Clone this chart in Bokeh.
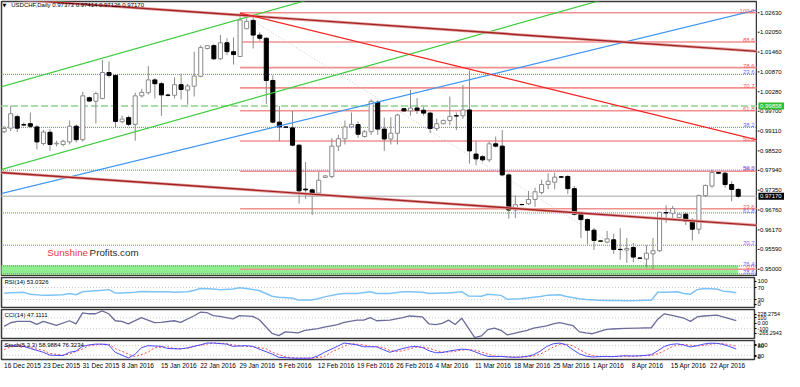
from bokeh.plotting import figure
from bokeh.layouts import column, row
from bokeh.models import Range1d, FixedTicker, Label
from bokeh.embed import file_html
from bokeh.resources import INLINE
from bokeh.core.properties import value

# ---------------- data ----------------
opens = [0.99091, 0.99196, 0.99539, 0.99302, 0.99330, 0.99233, 0.98740, 0.99074, 0.98731, 0.98711,
         0.98788, 0.99253, 0.98854, 1.00101, 0.99996, 1.00081, 1.00852, 1.00766, 0.99388, 0.99510,
         0.99310, 1.00158, 1.00253, 1.00632, 1.00518, 1.00181, 1.00175, 1.00489, 1.00330, 1.00444,
         1.00738, 1.01566, 1.01651, 1.01260, 1.01737, 1.01471, 1.01329, 1.02157, 1.02402, 1.01965,
         1.01871, 1.00615, 0.99376, 0.99231, 0.99205, 0.98691, 0.97384, 0.97361, 0.97264, 0.97732,
         0.97760, 0.98662, 0.98882, 0.99233, 0.99302, 0.98948, 0.99091, 0.99967, 0.99168, 0.98874,
         0.99045, 0.99776, 0.99710, 0.99796, 0.99730, 0.99644, 0.99188, 0.99330, 0.99425, 0.99567,
         0.99567, 0.99739, 0.98426, 0.98348, 0.98254, 0.98731, 0.98662, 0.97806, 0.96761, 0.96927,
         0.96950, 0.97075, 0.97284, 0.97521, 0.97589, 0.97749, 0.97760, 0.97398, 0.96636, 0.96476,
         0.96162, 0.95842, 0.95808, 0.95876, 0.95591, 0.95571, 0.95648, 0.95334, 0.95305, 0.95457,
         0.95551, 0.96684, 0.96664, 0.96541, 0.96636, 0.96447, 0.96190, 0.97189, 0.97475, 0.97875,
         0.97855, 0.97521, 0.97373]
highs = [0.99253, 0.99853, 0.99596, 0.99368, 0.99662, 0.99282, 0.99139, 0.99168, 0.98825, 0.98854,
         0.99425, 0.99310, 1.00281, 1.00138, 1.00281, 1.01232, 1.01186, 1.00795, 0.99567, 0.99567,
         1.00253, 1.00367, 1.01043, 1.00681, 1.00567, 1.00224, 1.00709, 1.00823, 1.00509, 1.01471,
         1.01660, 1.01666, 1.01708, 1.01965, 1.01871, 1.01894, 1.02625, 1.02465, 1.02579, 1.02051,
         1.01894, 1.00766, 0.99853, 0.99253, 0.99710, 0.98711, 0.98189, 0.97398, 0.97903, 0.97797,
         0.98902, 0.98996, 0.99425, 0.99662, 0.99396, 0.99139, 1.00053, 1.00024, 0.99510, 0.99519,
         0.99625, 0.99796, 1.00338, 1.00090, 0.99833, 0.99682, 0.99482, 0.99453, 1.00138, 0.99662,
         1.00481, 1.00909, 0.98805, 0.98397, 0.98805, 0.98948, 0.99139, 0.97855, 0.97189, 0.96941,
         0.97332, 0.97426, 0.97663, 0.97855, 0.97875, 0.97769, 0.97797, 0.97475, 0.96713, 0.96513,
         0.96236, 0.95856, 0.96142, 0.96056, 0.96219, 0.95933, 0.95779, 0.95357, 0.95714, 0.95933,
         0.96712, 0.96904, 0.96884, 0.96656, 0.96684, 0.96521, 0.97227, 0.97521, 0.97969, 0.97903,
         0.97903, 0.97618, 0.97414]
lows = [0.99054, 0.99111, 0.99082, 0.99253, 0.99196, 0.98568, 0.98682, 0.98525, 0.98654, 0.98654,
        0.98711, 0.98768, 0.98797, 0.99967, 0.99339, 1.00053, 1.00709, 0.99205, 0.99339, 0.99253,
        0.98825, 1.00110, 1.00195, 1.00081, 0.99567, 1.00138, 1.00081, 1.00053, 0.99896, 1.00138,
        1.00709, 1.01537, 1.01223, 1.01223, 1.01366, 1.01089, 1.01309, 1.02137, 1.01566, 1.01794,
        0.99910, 0.99339, 0.98805, 0.99196, 0.98654, 0.96950, 0.97092, 0.96619, 0.97227, 0.97712,
        0.97712, 0.98520, 0.98711, 0.99196, 0.98911, 0.98911, 0.98996, 0.98996, 0.98520, 0.98711,
        0.98711, 0.99682, 0.99567, 0.99616, 0.99567, 0.99045, 0.99111, 0.99310, 0.99282, 0.99139,
        0.99473, 0.98140, 0.98092, 0.98197, 0.98189, 0.98625, 0.97769, 0.96504, 0.96521, 0.96904,
        0.96913, 0.96855, 0.97227, 0.97378, 0.97378, 0.97712, 0.97235, 0.96599, 0.95933, 0.95742,
        0.95571, 0.95813, 0.95771, 0.95457, 0.95285, 0.95191, 0.95208, 0.95314, 0.95048, 0.95000,
        0.95514, 0.96379, 0.96476, 0.96513, 0.96313, 0.95856, 0.96048, 0.97141, 0.97426, 0.97826,
        0.97426, 0.97018, 0.97126]
closes = [0.99188, 0.99625, 0.99196, 0.99291, 0.99253, 0.98788, 0.99082, 0.98711, 0.98748, 0.98805,
          0.99253, 0.98854, 1.00158, 1.00004, 1.00224, 1.00852, 1.00766, 0.99396, 0.99467, 0.99310,
          1.00158, 1.00261, 1.00632, 1.00518, 1.00187, 1.00173, 1.00489, 1.00347, 1.00452, 1.00746,
          1.01594, 1.01651, 1.01260, 1.01737, 1.01471, 1.01386, 1.02414, 1.02374, 1.01965, 1.01871,
          1.00615, 0.99376, 0.99233, 0.99225, 0.98691, 0.97332, 0.97361, 0.97264, 0.97646, 0.97778,
          0.98662, 0.98882, 0.99233, 0.99310, 0.99016, 0.99091, 0.99996, 0.99168, 0.98874, 0.99045,
          0.99587, 0.99710, 0.99796, 0.99730, 0.99644, 0.99188, 0.99330, 0.99425, 0.99547, 0.99559,
          0.99739, 0.98520, 0.98283, 0.98254, 0.98731, 0.98662, 0.97806, 0.96761, 0.96921, 0.96921,
          0.97075, 0.97304, 0.97521, 0.97618, 0.97740, 0.97740, 0.97398, 0.96636, 0.96476, 0.96162,
          0.95856, 0.95836, 0.95905, 0.95591, 0.95585, 0.95619, 0.95362, 0.95328, 0.95477, 0.95551,
          0.96693, 0.96676, 0.96807, 0.96636, 0.96427, 0.96190, 0.97189, 0.97492, 0.97875, 0.97855,
          0.97521, 0.97373, 0.97170]

date_ticks = [0, 6, 12, 18, 24, 30, 36, 42, 48, 54, 60, 66, 72, 78, 84, 90, 96, 102, 108]
date_labels = ["16 Dec 2015", "23 Dec 2015", "31 Dec 2015", "8 Jan 2016", "15 Jan 2016",
               "22 Jan 2016", "29 Jan 2016", "5 Feb 2016", "12 Feb 2016", "19 Feb 2016",
               "26 Feb 2016", "4 Mar 2016", "11 Mar 2016", "18 Mar 2016", "25 Mar 2016",
               "1 Apr 2016", "8 Apr 2016", "15 Apr 2016", "22 Apr 2016"]
price_ticks = [1.02630, 1.02050, 1.01460, 1.00870, 1.00280, 0.99700, 0.99110, 0.98520,
               0.97940, 0.97350, 0.96760, 0.96170, 0.95590, 0.95000]

# trend lines (bar index, price)
green_up_i, green_up_p = [-1, 50], [1.00396, 1.03212]
green_lo_i, green_lo_p = [-1, 95], [0.97935, 1.03218]
blue_i, blue_p = [-1, 115], [0.97223, 1.02724]
brown_up_i, brown_up_p = [-1, 115], [1.03062, 1.01479]
brown_lo_i, brown_lo_p = [-1, 115], [0.97886, 0.96304]
red_i, red_p = [36, 115], [1.02620, 0.98845]
diag_i, diag_p = [36, 99], [1.02630, 0.95000]

# fibonacci tools
red_fib_levels = [0.0, 23.6, 38.2, 50.0, 61.8, 70.7, 78.6, 88.6, 100.0]
red_fib_low, red_fib_high, red_fib_start = 0.95000, 1.02630, 36
blue_fib_levels = [23.6, 38.2, 50.0, 61.8, 70.7, 76.4, 78.6]
blue_fib_top, blue_fib_bottom = 1.03342, 0.92554

support_level = 0.99858
last_close = 0.97170
zone_top, zone_bottom = 0.95120, 0.94840

# indicators
rsi_i = [0, 1, 3, 4, 6, 7, 9, 10, 11, 12, 13, 15, 16, 17, 18, 20, 21, 23, 25, 26,
         28, 29, 30, 32, 33, 35, 36, 37, 39, 41, 42, 44, 45, 47, 48, 49, 51, 52, 54, 56,
         57, 59, 61, 62, 64, 65, 67, 68, 70, 71, 73, 74, 76, 77, 79, 80, 82, 83, 85, 86,
         88, 89, 91, 92, 94, 95, 97, 98, 99, 100, 101, 103, 104, 105, 106, 107, 109, 110, 111, 112]
rsi_v = [51, 53, 54, 48, 44, 44, 46, 50, 46, 56, 58, 61, 63, 52, 52, 54, 57, 56, 56, 54,
         56, 60, 67, 65, 63, 65, 69, 67, 60, 41, 38, 35, 29, 29, 33, 39, 48, 50, 50, 56,
         50, 50, 56, 56, 54, 50, 52, 52, 56, 42, 41, 48, 44, 31, 33, 35, 40, 44, 46, 40,
         33, 30, 28, 27, 27, 26, 27, 28, 28, 54, 54, 56, 50, 48, 63, 67, 65, 58, 56, 53.03]

cci_i = [0, 1, 2, 4, 5, 6, 8, 10, 11, 12, 13, 14, 15, 16, 17, 18, 19, 21, 23, 24,
         26, 27, 29, 30, 31, 32, 33, 35, 36, 38, 39, 41, 42, 43, 45, 46, 48, 49, 51, 52,
         54, 55, 56, 57, 59, 61, 62, 64, 65, 66, 67, 68, 69, 70, 72, 73, 74, 75, 76, 77,
         78, 80, 81, 83, 84, 85, 87, 88, 89, 90, 92, 93, 95, 97, 99, 100, 101, 102, 104, 105,
         106, 107, 109, 110, 112]
cci_v = [-58, 10, 35, 35, -20, 35, -40, 47, -12, 193, 176, 176, 228, 176, 47, 35, -12, 105, 12, 17,
         47, 17, 135, 205, 199, 141, 129, 82, 141, 129, 70, -188, -228, -158, -176, -129, -100, -70, -23, 18,
         59, 59, 105, 47, 59, 105, 135, 117, -12, -23, 0, 59, -23, 94, -265, -234, -117, -88, -129, -216,
         -188, -129, -88, -47, -12, 12, -41, -158, -176, -193, -117, -105, -94, -88, -82, 76, 176, 152, 94, 35,
         117, 135, 152, 117, 47.11]

stk_i = [0, 1, 3, 4, 6, 7, 9, 10, 11, 12, 13, 14, 15, 16, 17, 19, 20, 21, 22, 24,
         25, 27, 28, 30, 31, 32, 34, 35, 37, 38, 39, 41, 42, 44, 45, 47, 48, 49, 51, 52,
         54, 55, 57, 58, 59, 60, 61, 62, 63, 64, 65, 66, 67, 68, 69, 70, 71, 72, 73, 74,
         75, 76, 77, 78, 79, 80, 81, 82, 83, 84, 85, 86, 87, 88, 89, 90, 91, 92, 93, 94,
         95, 96, 97, 98, 99, 100, 101, 102, 103, 104, 105, 106, 107, 108, 109, 110, 111, 112]
stk_v = [76, 80, 76, 62, 38, 20, 17, 38, 45, 76, 85, 90, 90, 85, 38, 2, 24, 67, 80, 76,
         62, 59, 66, 85, 97, 97, 90, 76, 80, 76, 59, 27, 6, 1, 0, 1, 15, 38, 76, 97,
         85, 73, 73, 55, 38, 50, 62, 72, 76, 68, 48, 35, 36, 45, 52, 58, 55, 42, 25, 12,
         10, 12, 8, 6, 8, 12, 22, 45, 75, 92, 97, 85, 55, 28, 14, 8, 10, 12, 10, 13,
         16, 14, 15, 18, 22, 48, 75, 88, 92, 84, 72, 80, 90, 96, 95, 88, 74, 58.99]

sig_i = [0, 1, 3, 4, 6, 7, 9, 10, 12, 13, 15, 16, 17, 19, 20, 22, 23, 25, 26, 28,
         29, 31, 32, 34, 35, 37, 38, 40, 41, 43, 44, 46, 47, 49, 50, 52, 53, 55, 56, 58,
         59, 60, 61, 62, 63, 64, 65, 66, 67, 68, 69, 70, 71, 72, 73, 74, 75, 76, 77, 78,
         79, 80, 81, 82, 83, 84, 85, 86, 87, 88, 89, 90, 91, 92, 93, 94, 95, 96, 97, 98,
         99, 100, 101, 102, 103, 104, 105, 106, 107, 108, 109, 110, 111, 112]
sig_v = [55, 73, 80, 67, 50, 31, 20, 27, 59, 80, 89, 90, 62, 27, 10, 38, 67, 73, 62, 62,
         76, 90, 97, 94, 85, 76, 73, 62, 38, 10, 3, 0, 0, 10, 38, 76, 94, 85, 76, 69,
         50, 42, 48, 60, 70, 72, 64, 50, 40, 39, 44, 52, 55, 52, 41, 26, 16, 11, 10, 9,
         7, 9, 14, 26, 47, 71, 88, 91, 79, 56, 32, 17, 11, 10, 11, 12, 13, 14, 15, 16,
         18, 29, 48, 70, 85, 88, 83, 79, 81, 89, 94, 93, 86, 76.32]

header_text = "USDCHF,Daily  0.97373 0.97414 0.97126 0.97170"
rsi_text = "RSI(14) 53.0326"
cci_text = "CCI(14) 47.1111"
stoch_text = "Stoch(5,3,3) 58.9884 76.3234"

# ---------------- layout ----------------
FONT = "Liberation Sans"
W, RB = 784, 28
X0, X1 = -0.40, 114.79
xr = Range1d(X0, X1)
XL, XR = -2, 117
FRAME_W = 755
PX_PER_BAR = FRAME_W / (X1 - X0)


def style_axis(ax, size="6px"):
    ax.axis_line_color = None
    ax.major_tick_out = 2
    ax.major_tick_in = 0
    ax.minor_tick_line_color = None
    ax.major_tick_line_color = "#000000"
    ax.major_label_standoff = 1
    ax.major_label_text_font = FONT
    ax.major_label_text_font_size = size
    ax.major_label_text_color = "#000000"


def make(h, y0, y1, top, bottom, xaxis=False, yaxis=True, width=W, rb=RB):
    p = figure(width=width, height=h, x_range=xr, y_range=Range1d(y0, y1),
               output_backend="svg", toolbar_location=None,
               x_axis_location="below" if xaxis else None,
               y_axis_location="right" if yaxis else None,
               min_border_left=1, min_border_right=rb,
               min_border_top=top, min_border_bottom=bottom)
    p.grid.visible = False
    p.outline_line_color = "#3a3a3a"
    p.outline_line_width = 1.5
    p.background_fill_color = "white"
    p.border_fill_color = "white"
    if yaxis:
        style_axis(p.yaxis[0])
    return p


# ---- main price panel (its price scale is drawn in a strip beside it) ----
main = make(276, 0.94814, 1.02964, 1, 1, yaxis=False, width=W - RB + 1, rb=1)

main.quad(left=[XL], right=[len(opens) - 1], top=[zone_top], bottom=[zone_bottom],
          fill_color="#90ee90", line_color=None)

bf_prices = [blue_fib_top - l / 100.0 * (blue_fib_top - blue_fib_bottom) for l in blue_fib_levels]
main.segment(x0=[XL] * len(bf_prices), x1=[XR] * len(bf_prices), y0=bf_prices, y1=bf_prices,
             line_color="#6b6bff", line_width=1, line_dash="1 1")
rf_prices = [red_fib_low + l / 100.0 * (red_fib_high - red_fib_low) for l in red_fib_levels]
main.segment(x0=[red_fib_start] * len(rf_prices), x1=[XR] * len(rf_prices), y0=rf_prices, y1=rf_prices,
             line_color="#f29090", line_width=1.6)

main.segment(x0=[XL], x1=[XR], y0=[support_level], y1=[support_level],
             line_color="#a9dca9", line_width=2, line_dash="7 3")
main.segment(x0=[XL], x1=[XR], y0=[last_close], y1=[last_close],
             line_color="#c4c4c4", line_width=1.4)
main.line(diag_i, diag_p, line_color="#c8c8c8", line_width=1, line_dash="1 2")

# candles
idx = list(range(len(opens)))
up = [c >= o for o, c in zip(opens, closes)]
main.segment(x0=idx, x1=idx, y0=lows, y1=highs, line_color="#8a8a8a", line_width=1)
ui = [i for i in idx if up[i]]
di = [i for i in idx if not up[i]]
main.vbar(x=ui, width=0.62, top=[closes[i] for i in ui], bottom=[opens[i] for i in ui],
          fill_color="white", line_color="#8a8a8a", line_width=1)
main.vbar(x=di, width=0.62, top=[opens[i] for i in di], bottom=[closes[i] for i in di],
          fill_color="black", line_color="black", line_width=1)

# trend lines
main.line(green_up_i, green_up_p, line_color="#3ccc3c", line_width=1.2)
main.line(green_lo_i, green_lo_p, line_color="#3ccc3c", line_width=1.2)
main.line(blue_i, blue_p, line_color="#3d96f5", line_width=1.2)
main.line(brown_up_i, brown_up_p, line_color="#e8a6a6", line_width=3)
main.line(brown_up_i, brown_up_p, line_color="#a32424", line_width=1.4)
main.line(brown_lo_i, brown_lo_p, line_color="#e8a6a6", line_width=3)
main.line(brown_lo_i, brown_lo_p, line_color="#a32424", line_width=1.4)
main.line(red_i, red_p, line_color="#f22020", line_width=1.2)

# fib labels
main.text(x=[114.5] * len(rf_prices), y=rf_prices, text=["%.1f" % l for l in red_fib_levels],
          text_font=value(FONT), text_font_size="6px", text_color="#f06060",
          text_align="right", text_baseline="bottom")
main.text(x=[114.5] * len(bf_prices), y=bf_prices, text=["%.1f" % l for l in blue_fib_levels],
          text_font=value(FONT), text_font_size="6px", text_color="#6b6bff",
          text_align="right", text_baseline="bottom")

main.add_layout(Label(x=-0.25, y=1.0285, text="\u25bc", text_font="DejaVu Sans", text_font_size="5px",
                      text_color="#000000", text_baseline="middle"))
main.add_layout(Label(x=1.09, y=1.0285, text=header_text, text_font=FONT, text_font_size="6px",
                      text_color="#000000", text_baseline="middle"))
main.add_layout(Label(x=6.57, y=0.95499, text="Sunshine", text_font=FONT, text_font_size="9.8px",
                      text_color="#e8383d", text_baseline="middle"))
main.add_layout(Label(x=13.04, y=0.95499, text="Profits.com", text_font=FONT, text_font_size="9.8px",
                      text_color="#2b2b2b", text_baseline="middle"))

# price scale strip for the main panel (shares the price range)
strip = figure(width=RB - 1, height=276, x_range=Range1d(0, RB - 1), y_range=main.y_range,
               output_backend="svg", toolbar_location=None,
               x_axis_location=None, y_axis_location=None,
               min_border_left=0, min_border_right=0, min_border_top=1, min_border_bottom=1)
strip.grid.visible = False
strip.outline_line_color = None
strip.background_fill_color = "white"
strip.border_fill_color = "white"
strip.segment(x0=[0] * len(price_ticks), x1=[2] * len(price_ticks), y0=price_ticks, y1=price_ticks,
              line_color="#000000", line_width=1)
strip.text(x=[2.5] * len(price_ticks), y=price_ticks, text=["%.5f" % t for t in price_ticks],
           text_font=value(FONT), text_font_size="6px", text_color="#000000",
           text_baseline="middle", text_align="left")
box_prices = [support_level, last_close]
box_colors = ["#2fbf2f", "#000000"]
strip.rect(x=[14] * 2, y=box_prices, width=[26] * 2, height=[7] * 2, height_units="screen",
           fill_color=box_colors, line_color=None)
strip.text(x=[2.5] * 2, y=box_prices, text=["%.5f" % b for b in box_prices],
           text_font=value(FONT), text_font_size="6px", text_color="white",
           text_baseline="middle", text_align="left")

# ---- RSI ----
rsi = make(32, 3.9, 103.1, 1, 1)
rsi.yaxis[0].ticker = FixedTicker(ticks=[91, 70, 30, 14])
rsi.yaxis[0].major_label_overrides = {91: "100", 70: "70", 30: "30", 14: "0"}
rsi.segment(x0=[XL, XL], x1=[XR, XR], y0=[70, 30], y1=[70, 30], line_color="#c8c8c8",
            line_width=1, line_dash="1 2")
rsi.line(rsi_i, rsi_v, line_color="#7ec3f5", line_width=1.5)
rsi.add_layout(Label(x=0.05, y=88.9, text=rsi_text, text_font=FONT, text_font_size="6px",
                     text_color="#000000", text_baseline="middle"))

# ---- CCI ----
cci = make(31, -281, 255, 1, 1)
cci.yaxis[0].ticker = FixedTicker(ticks=[163, 100, 0, -100, -188])
cci.yaxis[0].major_label_overrides = {163: "228.2754", 100: "100", 0: "0.00", -100: "-100",
                                      -188: "-265.2943"}
cci.yaxis[0].major_label_text_font_size = "5.4px"
cci.segment(x0=[XL, XL], x1=[XR, XR], y0=[100, -100], y1=[100, -100], line_color="#c8c8c8",
            line_width=1, line_dash="1 2")
cci.line(cci_i, cci_v, line_color="#6c6c9c", line_width=1.3)
cci.add_layout(Label(x=0.05, y=158, text=cci_text, text_font=FONT, text_font_size="6px",
                     text_color="#000000", text_baseline="middle"))

# ---- Stochastic ----
sto = make(32, -7.9, 113, 1, 10, xaxis=True)
sto.yaxis[0].ticker = FixedTicker(ticks=[87, 80, 16, 9])
sto.yaxis[0].major_label_overrides = {87: "100", 80: "80", 16: "20", 9: "0"}
sto.segment(x0=[XL, XL], x1=[XR, XR], y0=[80, 20], y1=[80, 20], line_color="#c8c8c8",
            line_width=1, line_dash="1 2")
sto.line(sig_i, sig_v, line_color="#ff4d4d", line_width=1, line_dash="2 2")
sto.line(stk_i, stk_v, line_color="#4a4aff", line_width=1)
sto.add_layout(Label(x=0.05, y=84, text=stoch_text, text_font=FONT, text_font_size="6px",
                     text_color="#000000", text_baseline="middle"))

# date labels start at their bar (centred labels are shifted by half their width)
DATE_FS = 6.5
CHAR_W = {" ": 0.278, "D": 0.722, "e": 0.556, "c": 0.5, "J": 0.5, "a": 0.556, "n": 0.556,
          "F": 0.611, "b": 0.556, "M": 0.833, "r": 0.333, "A": 0.667, "p": 0.556}
date_pos = [round(t + sum(CHAR_W.get(ch, 0.556) for ch in s) * DATE_FS / 2.0 / PX_PER_BAR, 3)
            for t, s in zip(date_ticks, date_labels)]
xa = sto.xaxis[0]
xa.ticker = FixedTicker(ticks=date_pos)
xa.major_label_overrides = {p_: s for p_, s in zip(date_pos, date_labels)}
xa.major_label_text_font = FONT
xa.major_label_text_font_size = "%gpx" % DATE_FS
xa.major_label_text_color = "#000000"
xa.axis_line_color = None
xa.major_tick_out = 0
xa.major_tick_in = 0
xa.minor_tick_line_color = None
xa.major_label_standoff = 2

layout = column(row(main, strip), rsi, cci, sto)
open("out.html", "w").write(file_html(layout, INLINE))
